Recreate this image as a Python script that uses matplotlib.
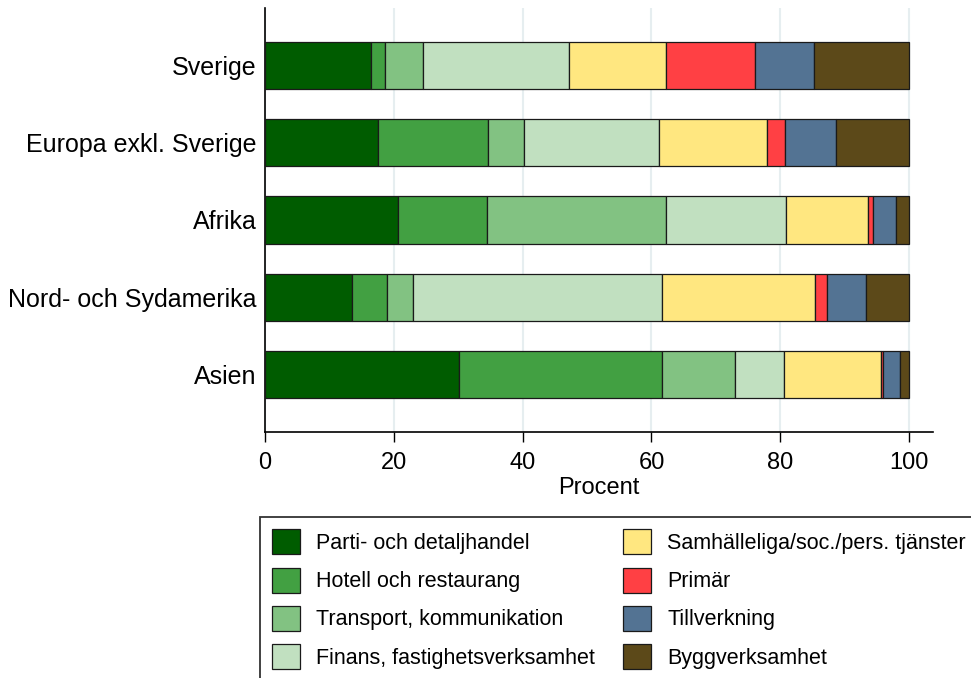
import matplotlib
matplotlib.use("Agg")
from matplotlib import pyplot as plt
import numpy as np

plt.rcParams["font.family"] = ["Liberation Sans", "DejaVu Sans"]

# regions (top to bottom)
regions = ["Sverige", "Europa exkl. Sverige", "Afrika", "Nord- och Sydamerika", "Asien"]

# industries
branscher = ["Parti- och detaljhandel", "Hotell och restaurang", "Transport, kommunikation",
             "Finans, fastighetsverksamhet", "Samhälleliga/soc./pers. tjänster", "Primär",
             "Tillverkning", "Byggverksamhet"]

# share in percent, one list per region (same order as branscher)
sverige = [16.4, 2.3, 5.8, 22.7, 15.0, 13.9, 9.2, 14.7]
europa = [17.5, 17.1, 5.6, 21.0, 16.8, 2.8, 7.8, 11.4]
afrika = [20.7, 13.7, 27.8, 18.7, 12.7, 0.8, 3.5, 2.1]
amerika = [13.5, 5.5, 3.9, 38.7, 23.8, 1.8, 6.1, 6.7]
asien = [30.1, 31.6, 11.3, 7.6, 15.0, 0.4, 2.6, 1.4]

colors = ["#005c00", "#42a042", "#82c282", "#c1e0c0", "#ffe780", "#ff4044", "#537393", "#5c4919"]

data = np.array([sverige, europa, afrika, amerika, asien])

fig = plt.figure(figsize=(9.71, 6.78), dpi=100)
ax = fig.add_axes([265 / 971, 1 - 432 / 678, (933 - 265) / 971, (432 - 8) / 678])

ypos = np.arange(len(regions))
left = np.zeros(len(regions))
for i, b in enumerate(branscher):
    ax.barh(ypos, data[:, i], left=left, height=0.61, color=colors[i],
            edgecolor="#1a1a1a", linewidth=0.9, label=b, zorder=3)
    left += data[:, i]

ax.set_xlim(0, 103.7)
ax.set_ylim(len(regions) - 0.25, -0.75)
ax.set_yticks(ypos)
ax.set_yticklabels(regions, fontsize=18)
ax.tick_params(axis="y", length=0, pad=6)
ax.set_xticks([0, 20, 40, 60, 80, 100])
ax.tick_params(axis="x", labelsize=17, length=7, width=1, direction="out", pad=7.5)
ax.set_xlabel("Procent", fontsize=17, labelpad=2)
ax.grid(axis="x", color="#e6eef0", linewidth=1.5, zorder=0)
for s in ["top", "right"]:
    ax.spines[s].set_visible(False)
ax.spines["left"].set_linewidth(1.2)
ax.spines["bottom"].set_linewidth(1.2)

leg = fig.legend(loc="upper left", bbox_to_anchor=(260 / 971, 161 / 678), ncol=2,
                 fontsize=15.5, frameon=True, fancybox=False, borderaxespad=0,
                 handlelength=1.3, handleheight=1.4, handletextpad=0.74,
                 labelspacing=0.62, columnspacing=1.3, borderpad=0.58)
leg.get_frame().set_edgecolor("black")
leg.get_frame().set_linewidth(1.3)

fig.savefig("out.png", dpi=100)
